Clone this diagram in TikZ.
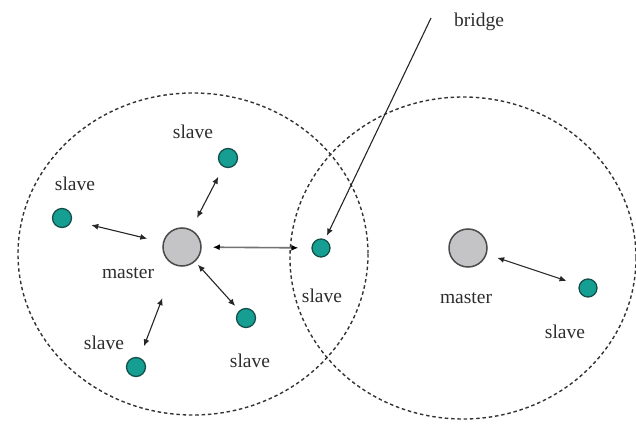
\documentclass[tikz,border=0pt]{standalone}
\usepackage{fontspec}
\setmainfont{Liberation Serif}
\usepackage{tikz}
\usetikzlibrary{arrows.meta}

\definecolor{slavefill}{RGB}{22,158,146}
\definecolor{slaveline}{RGB}{20,80,75}
\definecolor{masterfill}{RGB}{196,196,198}
\definecolor{masterline}{RGB}{75,75,75}
\definecolor{labelgray}{RGB}{45,45,45}

\tikzset{
    masternode/.style={circle, draw=masterline, fill=masterfill, line width=1.5pt, minimum size=38pt, inner sep=0pt},
    slavenode/.style={circle, draw=slaveline, fill=slavefill, line width=1.3pt, minimum size=19pt, inner sep=0pt},
    lbl/.style={text=labelgray, font=\fontsize{19.5}{21}\selectfont, inner sep=0pt},
    link/.style={{Latex[length=7pt,width=6pt]}-{Latex[length=7pt,width=6pt]}, line width=1.1pt, draw=black!85},
    coverage/.style={dash pattern=on 3.5pt off 2.8pt, line width=1.4pt, draw=black!80}
}

\begin{document}
\begin{tikzpicture}[x=1pt, y=-1pt]
    \useasboundingbox (0, 0) rectangle (636, 427);
    \clip (0, 0) rectangle (636, 427);

    % radio ranges of the two piconets
    \draw[coverage] (193, 254) ellipse [x radius=175, y radius=161];
    \draw[coverage] (463, 258) ellipse [x radius=173, y radius=161];

    % masters
    \node[masternode] (m1) at (182, 247) {};
    \node[masternode] (m2) at (468, 248) {};
    \node[lbl] (lm1) at (128, 273) {master};
    \node[lbl] (lm2) at (466, 298) {master};

    % slaves of the first piconet
    \node[slavenode] (s1) at (62, 218) {};
    \node[slavenode] (s2) at (228, 158) {};
    \node[slavenode] (s3) at (246, 318) {};
    \node[slavenode] (s4) at (136, 367) {};
    \node[lbl] (ls1) at (75, 184) {slave};
    \node[lbl] (ls2) at (193, 132) {slave};
    \node[lbl] (ls3) at (250, 361) {slave};
    \node[lbl] (ls4) at (104, 343) {slave};

    % shared slave (bridge)
    \node[slavenode, minimum size=18pt] (s5) at (321, 248) {};
    \node[lbl] (ls5) at (322, 296) {slave};

    % slave of the second piconet
    \node[slavenode, minimum size=18pt] (s6) at (588, 288) {};
    \node[lbl] (ls6) at (565, 332) {slave};

    % links
    \draw[link, shorten <=20pt, shorten >=16pt] (s1) -- (m1);
    \draw[link, shorten <=11pt, shorten >=13pt] (s2) -- (m1);
    \draw[link, shorten <=4pt, shorten >=6pt] (m1) -- (s3);
    \draw[link, shorten <=12pt, shorten >=35pt] (s4) -- (m1);
    \draw[{Latex[length=7pt,width=6pt,color=black]}-{Latex[length=7pt,width=6pt,color=black]}, line width=1.6pt, draw=black!55, shorten <=11pt, shorten >=13pt] (m1) -- (s5);
    \draw[link, shorten <=11pt, shorten >=13pt] (m2) -- (s6);

    % bridge pointer
    \node[lbl] (lb) at (479, 22) {bridge};
    \coordinate (bt) at (431, 18);
    \draw[-{Latex[length=7pt,width=6pt]}, line width=1.1pt, draw=black!85, shorten >=4pt] (bt) -- (s5);
\end{tikzpicture}
\end{document}
